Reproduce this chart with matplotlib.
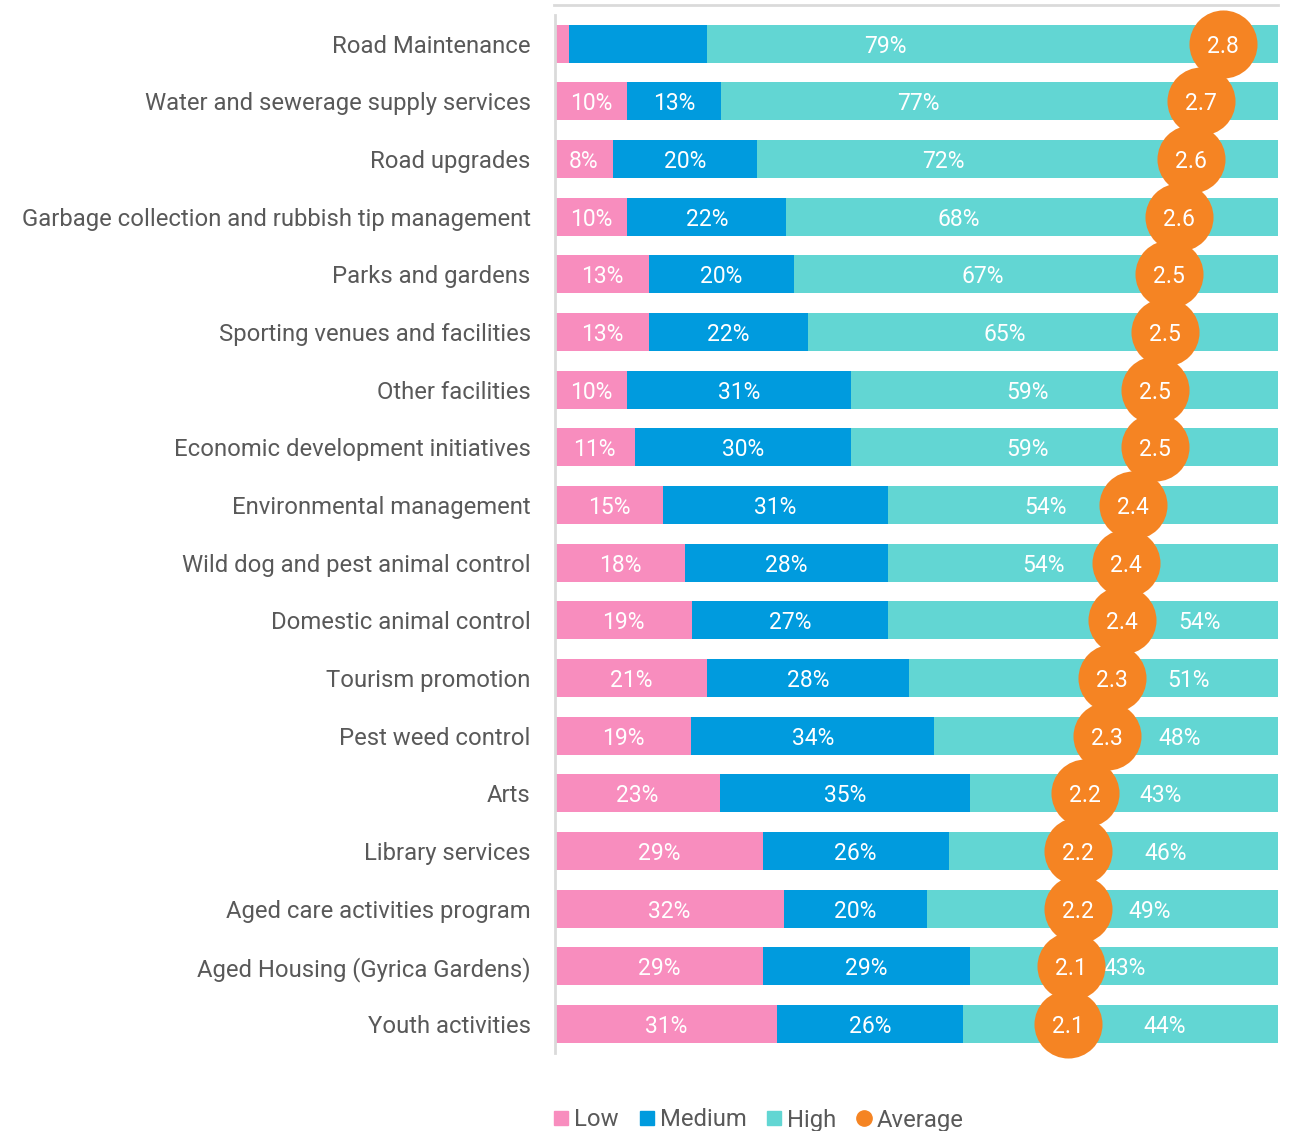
import numpy as np
import matplotlib.pyplot as plt
from matplotlib.lines import Line2D

plt.rcParams['font.family'] = ['Roboto', 'DejaVu Sans']

categories = [
    "Road Maintenance",
    "Water and sewerage supply services",
    "Road upgrades",
    "Garbage collection and rubbish tip management",
    "Parks and gardens",
    "Sporting venues and facilities",
    "Other facilities",
    "Economic development initiatives",
    "Environmental management",
    "Wild dog and pest animal control",
    "Domestic animal control",
    "Tourism promotion",
    "Pest weed control",
    "Arts",
    "Library services",
    "Aged care activities program",
    "Aged Housing (Gyrica Gardens)",
    "Youth activities",
]
low = [2, 10, 8, 10, 13, 13, 10, 11, 15, 18, 19, 21, 19, 23, 29, 32, 29, 31]
medium = [19, 13, 20, 22, 20, 22, 31, 30, 31, 28, 27, 28, 34, 35, 26, 20, 29, 26]
high = [79, 77, 72, 68, 67, 65, 59, 59, 54, 54, 54, 51, 48, 43, 46, 49, 43, 44]
average = [2.77, 2.68, 2.64, 2.59, 2.546, 2.53, 2.49, 2.49, 2.40, 2.37,
           2.353, 2.31, 2.29, 2.20, 2.17, 2.17, 2.14, 2.13]

# where the "High" labels sit along the bar (percent), clear of the circles
high_label_pos = [45.7, 50.2, 53.7, 55.9, 59.2, 62.2, 65.4, 65.4, 67.9, 67.6,
                  89.2, 87.6, 86.4, 83.8, 84.4, 82.2, 78.8, 84.3]
hide_labels = {0}  # rows with no low/medium labels

PINK = "#F88DBE"
BLUE = "#009BDE"
TEAL = "#62D6D3"
ORANGE = "#F58423"
TEXT = "#595959"

W, H = 1289, 1131
fig = plt.figure(figsize=(W / 100, H / 100), dpi=100)
ax = fig.add_axes([555 / W, 1 - 1052.8 / H, 723 / W, (1052.8 - 14.7) / H])

y = np.arange(len(categories))
lo = np.array(low, float)
me = np.array(medium, float)
hi = np.array(high, float)
tot = lo + me + hi
lo_w, me_w, hi_w = lo / tot * 100, me / tot * 100, hi / tot * 100

ax.barh(y, lo_w, height=0.66, color=PINK, linewidth=0)
ax.barh(y, me_w, left=lo_w, height=0.66, color=BLUE, linewidth=0)
ax.barh(y, hi_w, left=lo_w + me_w, height=0.66, color=TEAL, linewidth=0)

lab = dict(color="white", fontsize=16.5, ha="center", va="center_baseline")
for i in y:
    if i not in hide_labels:
        ax.text(lo_w[i] / 2, i, f"{low[i]}%", **lab)
        ax.text(lo_w[i] + me_w[i] / 2, i, f"{medium[i]}%", **lab)
    ax.text(high_label_pos[i], i, f"{high[i]}%", **lab)

ax.set_xlim(0, 100)
ax.set_ylim(len(categories) - 0.5, -0.5)
ax.set_yticks(y)
ax.set_yticklabels(categories, fontsize=17.2, color=TEXT)
ax.tick_params(axis="y", length=0, pad=17.5)
ax.set_xticks([])
for s in ["top", "right", "bottom"]:
    ax.spines[s].set_visible(False)
ax.spines["left"].set_color("#DADADA")
ax.spines["left"].set_linewidth(2)

# average score on a 0-3 scale
ax2 = ax.twiny()
ax2.set_xlim(0, 3)
ax2.set_ylim(ax.get_ylim())
ax2.scatter(average, y, s=2400, color=ORANGE, linewidths=0, clip_on=False, zorder=3)
for i in y:
    ax2.text(average[i], i, f"{average[i]:.1f}", color="white", fontsize=16.5,
             ha="center", va="center_baseline", zorder=4)
ax2.axis("off")

fig.add_artist(Line2D([554 / W, 1278 / W], [1 - 5 / H] * 2, color="#DADADA", lw=2))

handles = [
    Line2D([], [], marker="s", ls="", color=PINK, markersize=10),
    Line2D([], [], marker="s", ls="", color=BLUE, markersize=10),
    Line2D([], [], marker="s", ls="", color=TEAL, markersize=10),
    Line2D([], [], marker="o", ls="", color=ORANGE, markersize=11),
]
fig.legend(handles, ["Low", "Medium", "High", "Average"], loc="center left",
           bbox_to_anchor=(541 / W, 1 - 1120 / H), ncol=4, frameon=False,
           fontsize=17.2, labelcolor=TEXT, handlelength=0.7, handletextpad=0.2,
           columnspacing=0.8, borderpad=0)

fig.savefig("out.png", dpi=100)
